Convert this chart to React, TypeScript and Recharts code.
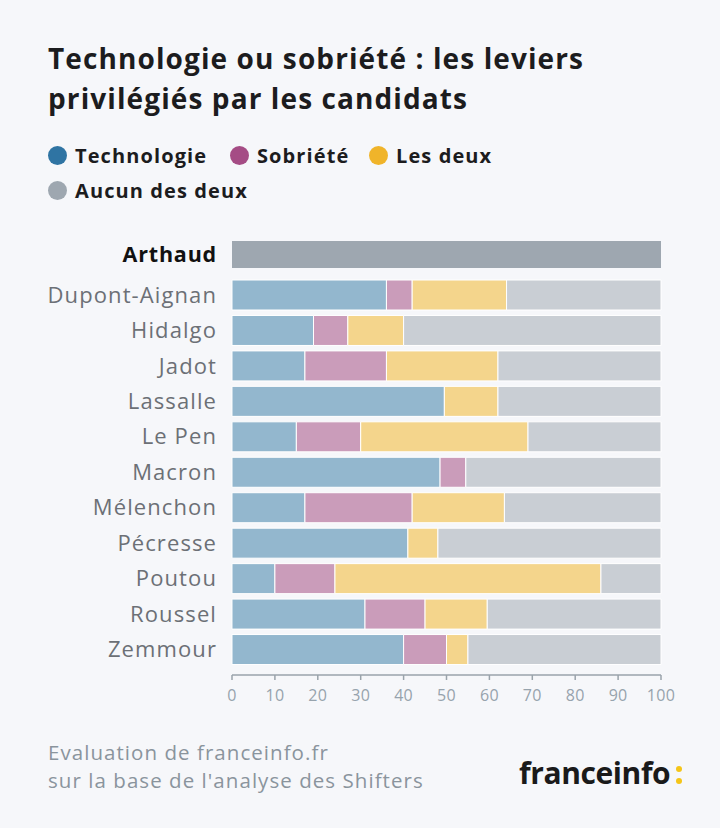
import React from 'react';
import { BarChart, Bar, XAxis, YAxis } from 'recharts';

const categories = ['Dupont-Aignan', 'Hidalgo', 'Jadot', 'Lassalle', 'Le Pen', 'Macron', 'Mélenchon', 'Pécresse', 'Poutou', 'Roussel', 'Zemmour'];
const technologie = [36, 19, 17, 49.5, 15, 48.5, 17, 41, 10, 31, 40];
const sobriete = [6, 8, 19, 0, 15, 6, 25, 0, 14, 14, 10];
const lesDeux = [22, 13, 26, 12.5, 39, 0, 21.5, 7, 62, 14.5, 5];
const aucun = [36, 60, 38, 38, 31, 45.5, 36.5, 52, 14, 40.5, 45];

const highlightName = 'Arthaud';
const highlightValues = [0, 0, 0, 100];

const xTicks = [0, 10, 20, 30, 40, 50, 60, 70, 80, 90, 100];

const seriesNames = ['Technologie', 'Sobriété', 'Les deux', 'Aucun des deux'];
const seriesKeys = ['tech', 'sob', 'deux', 'aucun'];
const strongColors = ['#2f74a3', '#a54c85', '#f0b42a', '#9ea7b0'];
const fadedColors = ['#93b7ce', '#ca9cba', '#f4d58c', '#c9ced4'];

const BG = '#f6f7fa';
const FONT = '"Open Sans", "Noto Sans", sans-serif';

const rows = categories.map((name, i) => ({
  name,
  tech: technologie[i],
  sob: sobriete[i],
  deux: lesDeux[i],
  aucun: aucun[i],
}));

const highlightRow = [{
  name: highlightName,
  tech: highlightValues[0],
  sob: highlightValues[1],
  deux: highlightValues[2],
  aucun: highlightValues[3],
}];

const NameTick = (props: any) => {
  const { x, y, payload, bold } = props;
  return (
    <text
      x={x}
      y={y}
      dy="0.36em"
      textAnchor="end"
      fontFamily={FONT}
      fontSize={bold ? 21.5 : 22}
      fontWeight={bold ? 700 : 400}
      letterSpacing={bold ? 0.8 : 1.1}
      fill={bold ? '#111111' : '#6c7076'}
    >
      {payload.value}
    </text>
  );
};

const TickX = (props: any) => {
  const { x, y, payload } = props;
  return (
    <text x={x} y={y} dy="0.71em" textAnchor="middle" fontFamily={FONT} fontSize={16} letterSpacing={0.3} fill="#97a3ad">
      {payload.value}
    </text>
  );
};

export default function App() {
  return (
    <div style={{ position: 'absolute', left: 0, top: 0, width: 720, height: 828, background: BG, fontFamily: FONT, overflow: 'hidden' }}>
      <div style={{ position: 'absolute', left: 48, top: 38, fontSize: 28, fontWeight: 700, color: '#1c1c1e', lineHeight: '40px', letterSpacing: 1.1, width: 700, whiteSpace: 'nowrap' }}>
        Technologie ou sobriété : les leviers<br />privilégiés par les candidats
      </div>

      {seriesNames.map((s, i) => {
        const pos = [
          { left: 48, top: 144 },
          { left: 230, top: 144 },
          { left: 369, top: 144 },
          { left: 48, top: 179 },
        ][i];
        return (
          <div key={s} style={{ position: 'absolute', left: pos.left, top: pos.top, display: 'flex', alignItems: 'center', height: 22, whiteSpace: 'nowrap' }}>
            <span style={{ display: 'inline-block', width: 19, height: 19, borderRadius: '50%', background: strongColors[i], marginRight: 8 }} />
            <span style={{ fontSize: 20, fontWeight: 700, color: '#1c1c1e', letterSpacing: 1.1 }}>{s}</span>
          </div>
        );
      })}

      <div style={{ position: 'absolute', left: 0, top: 239 }}>
        <BarChart width={720} height={30} data={highlightRow} layout="vertical" margin={{ top: 0, right: 59, bottom: 0, left: 0 }} barCategoryGap={0}>
          <XAxis type="number" domain={[0, 100]} hide />
          <YAxis type="category" dataKey="name" width={232} axisLine={false} tickLine={false} tickSize={0} tickMargin={15} tick={<NameTick bold />} />
          {seriesKeys.map((k, i) => (
            <Bar key={k} dataKey={k} stackId="a" fill={strongColors[i]} barSize={30} isAnimationActive={false} />
          ))}
        </BarChart>
      </div>

      <div style={{ position: 'absolute', left: 0, top: 277 }}>
        <BarChart width={720} height={438} data={rows} layout="vertical" margin={{ top: 0, right: 59, bottom: 0, left: 0 }}>
          <XAxis
            type="number"
            domain={[0, 100]}
            ticks={xTicks}
            height={40}
            axisLine={{ stroke: '#9aa3ab', strokeWidth: 1.5 }}
            tickLine={{ stroke: '#9aa3ab', strokeWidth: 1.5 }}
            tickSize={5}
            tickMargin={10}
            tick={<TickX />}
          />
          <YAxis
            type="category"
            dataKey="name"
            width={232}
            padding={{ top: 0, bottom: 8 }}
            axisLine={false}
            tickLine={false}
            tickSize={0}
            tickMargin={15}
            tick={<NameTick />}
          />
          {seriesKeys.map((k, i) => (
            <Bar key={k} dataKey={k} stackId="a" fill={fadedColors[i]} stroke="#ffffff" strokeWidth={1} barSize={30} isAnimationActive={false} />
          ))}
        </BarChart>
      </div>

      <div style={{ position: 'absolute', left: 48, top: 738, fontSize: 20.5, color: '#8a949d', lineHeight: '28px', letterSpacing: 1.05, whiteSpace: 'nowrap' }}>
        Evaluation de franceinfo.fr<br />sur la base de l'analyse des Shifters
      </div>

      <div style={{ position: 'absolute', left: 519, top: 756, display: 'flex', alignItems: 'flex-end' }}>
        <span style={{ fontSize: 30, fontWeight: 700, color: '#1a1a1a', letterSpacing: -0.4, lineHeight: '34px' }}>franceinfo</span>
        <span style={{ display: 'inline-flex', flexDirection: 'column', marginLeft: 6, marginBottom: 6 }}>
          <span style={{ width: 6, height: 6, borderRadius: '50%', background: '#f5c518', marginBottom: 6 }} />
          <span style={{ width: 6, height: 6, borderRadius: '50%', background: '#f5c518' }} />
        </span>
      </div>
    </div>
  );
}
